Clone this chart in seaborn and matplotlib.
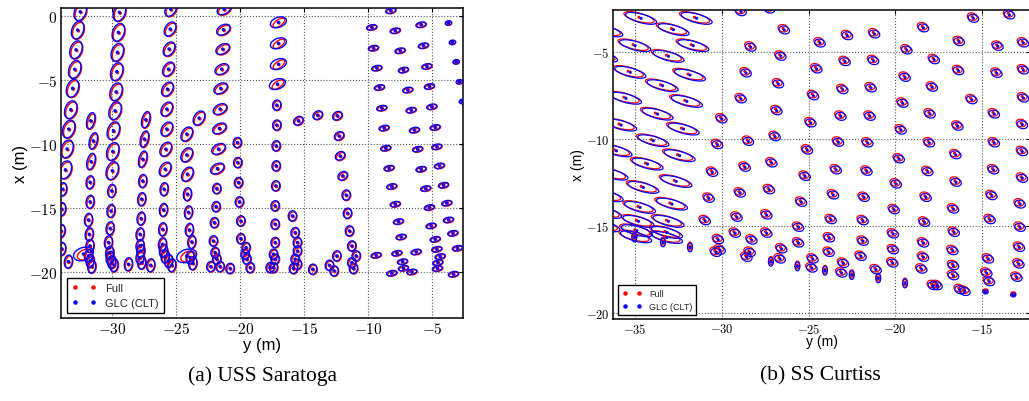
import matplotlib
matplotlib.use("Agg")
import matplotlib.pyplot as plt
import pandas as pd
import seaborn as sns
from matplotlib.patches import Ellipse
from matplotlib.lines import Line2D
from matplotlib.ticker import FuncFormatter, MultipleLocator

sns.set_theme(style="white")
plt.rcParams["font.family"] = ["Liberation Sans", "DejaVu Sans"]
plt.rcParams["mathtext.fontset"] = "cm"

FULL_COLOR = "#ff0000"
GLC_COLOR = "#0000ff"
METHODS = ["Full", "GLC (CLT)"]

# ---------------------------------------------------------------------------
# USS Saratoga: landmark estimates (y, x) in metres, grouped by covariance shape.
# Shape = (GLC major, GLC minor, GLC angle, Full major, Full minor, Full angle,
#          Full offset in y, Full offset in x)
# ---------------------------------------------------------------------------
SARA_TALL_Y = [-32.5, -32.7, -32.83, -32.93, -33.1, -33.24, -33.4, -33.53, -33.66,
               -29.44, -29.52, -29.6, -29.65, -29.7, -29.78, -29.91, -29.96, -30.0]
SARA_TALL_X = [0.31, -1.12, -2.66, -4.19, -5.67, -7.34, -8.85, -10.4, -12.03,
               0.26, -1.3, -2.86, -4.37, -5.94, -7.42, -8.98, -10.6, -12.1]
SARA_TALL_SHAPE = (1.44, 0.9, 70, 1.38, 0.86, 70, 0.07, -0.07)

SARA_NARROW_Y = [-31.68, -31.48, -31.66, -27.38, -27.49, -27.62]
SARA_NARROW_X = [-8.2, -9.77, -11.38, -8.12, -9.63, -11.2]
SARA_NARROW_SHAPE = (1.3, 0.6, 75, 1.25, 0.57, 75, 0.07, -0.07)

SARA_MID_Y = [-25.43, -25.48, -25.56, -25.61, -25.69, -25.74, -25.74, -25.82, -25.87,
              -24.18, -24.18, -24.13, -23.22]
SARA_MID_X = [0.5, -1.04, -2.6, -4.17, -5.73, -7.29, -8.85, -10.42, -11.98,
              -9.24, -10.86, -12.37, -7.99]
SARA_MID_SHAPE = (1.2, 0.78, 58, 1.15, 0.74, 58, 0.07, -0.07)

SARA_WIDE_Y = [-21.27, -21.32, -21.37, -21.45, -21.53, -21.58, -21.63, -21.7, -21.79]
SARA_WIDE_X = [0.5, -1.09, -2.6, -4.17, -5.67, -7.29, -8.8, -10.4, -11.93]
SARA_WIDE_SHAPE = (1.15, 0.72, 30, 1.1, 0.68, 30, 0.07, -0.07)

SARA_BOW_Y = [-17.02, -17.02, -17.02, -17.1]
SARA_BOW_X = [-0.52, -2.16, -3.78, -5.34]
SARA_BOW_SHAPE = (1.3, 0.78, 20, 1.05, 0.5, 35, 0.04, -0.04)

SARA_LOW_Y = [-33.87, -33.95, -34.0, -33.95, -33.43,
              -31.73, -31.73, -31.86, -31.8, -31.75, -31.86, -31.73, -31.6,
              -30.04, -30.1, -30.17, -30.3, -30.2, -30.17, -30.04, -29.86,
              -27.62, -27.7, -27.75, -27.83, -27.83, -27.78, -27.83, -27.7, -28.74, -27.0,
              -25.95, -26.0, -26.06, -26.08, -26.0, -25.87, -25.6, -25.35,
              -24.13, -24.05, -23.98, -23.79, -23.92, -23.71]
SARA_LOW_X = [-13.54, -15.1, -16.8, -18.2, -19.2,
              -13.0, -14.53, -15.94, -17.06, -17.97, -18.75, -19.14, -19.58,
              -13.67, -15.24, -16.6, -17.7, -18.5, -18.9, -19.22, -19.48,
              -12.9, -14.32, -15.83, -17.06, -17.97, -18.36, -18.88, -19.27, -19.4, -19.48,
              -13.54, -15.16, -16.67, -17.84, -18.36, -18.8, -19.14, -19.48,
              -13.93, -15.35, -16.72, -17.66, -18.88, -19.32]
SARA_LOW_SHAPE = (1.02, 0.62, 82, 0.98, 0.58, 82, 0.06, -0.06)

SARA_ROUND_Y = [-21.84, -21.89, -22.02, -22.1, -21.97, -21.84, -21.58, -22.3, -20.8,
                -20.23, -20.2, -20.14, -20.07, -19.96, -19.96, -19.55, -19.63, -19.49, -19.23,
                -17.15, -17.15, -17.2, -17.2, -17.23, -17.28, -17.28, -17.28, -17.41, -17.28,
                -17.41, -17.67,
                -15.93, -15.72, -15.54, -15.54, -15.72, -15.54, -15.85, -14.34,
                -11.73, -11.63, -11.47, -11.29, -10.95, -11.29, -11.16, -12.46, -13.04, -12.67]
SARA_ROUND_X = [-13.49, -14.9, -16.15, -17.58, -18.49, -19.0, -19.58, -19.58, -19.73,
                -9.9, -11.46, -13.02, -14.53, -16.02, -17.4, -18.1, -18.62, -19.0, -19.66,
                -6.98, -8.54, -10.16, -11.72, -13.28, -14.84, -16.27, -17.7, -18.62, -19.0,
                -19.66, -19.66,
                -15.63, -16.93, -17.7, -18.36, -19.0, -19.4, -19.73, -19.79,
                -14.0, -15.42, -16.8, -17.97, -18.75, -19.27, -19.73, -18.75, -19.48, -19.92]
SARA_ROUND_SHAPE = (0.8, 0.64, 80, 0.76, 0.6, 80, 0.06, -0.06)

SARA_TILT_Y = [-15.46, -13.95, -12.42, -12.28, -12.2, -12.0]
SARA_TILT_X = [-8.2, -7.76, -7.81, -9.38, -10.94, -12.5]
SARA_TILT_SHAPE = (0.8, 0.6, 35, 0.76, 0.56, 35, 0.06, -0.06)

SARA_FLAT_Y = [-8.25, -9.73, -7.9, -5.88, -9.6, -7.52, -5.7, -9.34, -7.26, -5.43,
               -9.13, -6.92, -5.23, -8.95, -6.66, -5.04, -8.77, -6.4, -4.78,
               -8.64, -6.15, -4.65, -8.38, -5.88, -4.45, -8.17, -5.52, -4.13,
               -7.9, -5.23, -3.87, -7.65, -5.1, -3.74, -7.44, -4.78, -3.4,
               -9.39, -7.77, -6.27, -4.65, -3.04, -7.33, -7.26, -8.17, -6.6,
               -4.39, -4.57, -4.6, -3.35]
SARA_FLAT_X = [0.39, -0.91, -1.17, -0.7, -2.53, -2.73, -2.34, -4.09, -4.24, -3.96,
               -5.6, -5.8, -5.52, -7.21, -7.37, -7.11, -8.77, -8.93, -8.72,
               -10.34, -10.42, -10.23, -11.9, -11.98, -11.72, -13.33, -13.49, -13.23,
               -14.71, -14.97, -14.63, -16.07, -16.4, -15.94, -17.27, -17.45, -16.98,
               -18.7, -18.54, -18.44, -18.23, -18.15, -19.2, -19.71, -20.1, -20.0,
               -18.8, -19.27, -19.73, -20.18]
SARA_FLAT_SHAPE = (0.8, 0.4, 12, 0.76, 0.37, 12, 0.05, -0.04)

SARA_TINY_Y = [-3.74, -3.43, -3.14, -2.89, -2.65]
SARA_TINY_X = [-0.57, -2.08, -3.6, -5.16, -6.69]
SARA_TINY_SHAPE = (0.5, 0.34, 10, 0.46, 0.3, 10, 0.03, -0.03)

SARA_LOOP_Y = [-32.25, -24.18]
SARA_LOOP_X = [-18.6, -18.75]
SARA_LOOP_SHAPE = (1.6, 1.0, 18, 1.2, 0.75, 25, 0.1, -0.05)

# ---------------------------------------------------------------------------
# SS Curtiss
# ---------------------------------------------------------------------------
CURT_BIG_Y = [-34.65, -31.45, -32.78, -34.99, -31.64, -33.07, -35.27, -31.83, -33.41,
              -35.52, -32.01, -33.7, -35.8, -32.2, -33.94, -36.07, -32.43, -34.28,
              -36.6, -36.9, -34.52, -32.62, -34.71, -32.87, -34.8, -33.07, -34.89,
              -33.16, -34.94, -33.16, -36.3, -36.58, -36.67, -36.77]
CURT_BIG_X = [-3.08, -3.08, -3.73, -4.65, -4.65, -5.26, -6.18, -6.34, -6.95,
              -7.67, -7.85, -8.58, -9.21, -9.44, -10.11, -10.69, -10.97, -11.45,
              -3.8, -5.25, -12.79, -12.45, -13.94, -13.75, -14.74, -14.74, -15.28,
              -15.38, -15.63, -15.67, -12.03, -13.27, -14.23, -15.0]
CURT_BIG_SHAPE = (1.85, 0.5, -15, 1.8, 0.48, -15, -0.12, 0.06)

CURT_SMALL_Y = [-28.89, -27.25, -26.4, -28.33, -26.6, -28.6, -26.74, -28.89, -26.83,
                -30.0, -26.93, -28.47, -30.25, -28.66, -27.12, -30.54, -30.74, -30.96,
                -30.2, -30.33, -30.1, -28.94, -29.13, -29.23, -28.27, -28.37, -28.56,
                -27.26, -27.41, -27.41, -26.55, -26.64, -25.41, -25.58,
                -24.34, -22.76, -21.2, -18.38, -15.5, -13.42, -16.32, -14.09, -12.62,
                -19.34, -24.53, -22.9, -21.26, -17.76, -19.44, -16.36, -14.15, -12.62,
                -24.72, -23.03, -21.4, -17.87, -19.57, -15.59, -12.62,
                -24.87, -23.14, -21.46, -18.0, -14.3, -19.67, -16.4, -12.68,
                -25.07, -23.28, -21.59, -18.04, -14.3, -19.78, -16.52, -12.68,
                -25.2, -23.41, -21.64, -18.13, -14.34, -12.68, -19.95, -16.5,
                -23.57, -21.8, -18.23, -14.44, -20.07, -16.65, -12.81,
                -23.7, -21.86, -18.32, -14.54, -20.12, -16.61, -12.81,
                -25.58, -23.8, -21.86, -18.38, -20.12, -16.69, -12.85,
                -23.82, -24.75, -21.98, -18.38, -20.15, -16.65, -14.64, -12.88,
                -24.81, -22.99, -23.09, -21.11, -18.48, -16.65, -14.73, -14.58, -13.0,
                -17.81, -17.6, -16.27, -15.99]
CURT_SMALL_X = [-2.7, -2.55, -3.75, -4.74, -5.26, -6.22, -6.85, -7.71, -8.39,
                -8.86, -9.88, -10.15, -10.34, -11.64, -11.39, -11.93, -13.42, -14.71,
                -15.8, -16.53, -16.4, -13.12, -14.51, -15.43, -15.82, -16.53, -16.81,
                -12.93, -14.38, -15.43, -16.33, -16.91, -13.65, -15.09,
                -4.5, -4.08, -3.98, -3.63, -3.08, -2.89, -4.42, -4.69, -4.5,
                -4.9, -5.99, -5.57, -5.51, -5.46, -6.47, -6.09, -6.24, -6.05,
                -7.53, -7.18, -7.08, -7.04, -7.96, -7.76, -7.66,
                -9.09, -8.71, -8.71, -8.58, -8.58, -9.5, -9.28, -9.19,
                -10.65, -10.2, -10.24, -10.24, -10.24, -11.16, -10.92, -10.74,
                -12.16, -11.79, -11.87, -11.89, -11.79, -12.27, -12.6, -12.5,
                -13.23, -13.37, -13.37, -13.27, -14.08, -14.04, -13.75,
                -14.65, -14.71, -14.8, -14.65, -15.47, -15.38, -15.09,
                -15.99, -15.7, -15.89, -15.99, -16.38, -16.43, -16.24,
                -16.53, -16.91, -16.76, -16.81, -17.14, -17.29, -16.91, -17.2,
                -17.43, -17.16, -17.72, -17.53, -17.49, -17.87, -17.72, -18.21, -17.96,
                -18.44, -18.44, -18.67, -18.77]
CURT_SMALL_SHAPE = (0.62, 0.44, -15, 0.58, 0.42, -15, -0.07, 0.1)

CURT_SLIM_Y = [-35.04, -33.39, -31.83, -27.17, -25.64, -24.05, -22.51, -20.98, -19.44]
CURT_SLIM_X = [-15.67, -15.95, -16.24, -17.07, -17.33, -17.58, -17.83, -18.02, -18.31]
CURT_SLIM_SHAPE = (0.5, 0.28, 90, 0.46, 0.26, 90, 0.0, 0.08)

CURT_DOT_Y = [-14.8, -13.2]
CURT_DOT_X = [-18.79, -18.96]
CURT_DOT_SHAPE = (0.3, 0.24, 0, 0.28, 0.22, 0, 0.0, 0.06)

SARA_GROUPS = [
    (SARA_TALL_Y, SARA_TALL_X, SARA_TALL_SHAPE),
    (SARA_NARROW_Y, SARA_NARROW_X, SARA_NARROW_SHAPE),
    (SARA_MID_Y, SARA_MID_X, SARA_MID_SHAPE),
    (SARA_WIDE_Y, SARA_WIDE_X, SARA_WIDE_SHAPE),
    (SARA_BOW_Y, SARA_BOW_X, SARA_BOW_SHAPE),
    (SARA_LOW_Y, SARA_LOW_X, SARA_LOW_SHAPE),
    (SARA_ROUND_Y, SARA_ROUND_X, SARA_ROUND_SHAPE),
    (SARA_TILT_Y, SARA_TILT_X, SARA_TILT_SHAPE),
    (SARA_FLAT_Y, SARA_FLAT_X, SARA_FLAT_SHAPE),
    (SARA_TINY_Y, SARA_TINY_X, SARA_TINY_SHAPE),
    (SARA_LOOP_Y, SARA_LOOP_X, SARA_LOOP_SHAPE),
]
CURT_GROUPS = [
    (CURT_BIG_Y, CURT_BIG_X, CURT_BIG_SHAPE),
    (CURT_SMALL_Y, CURT_SMALL_X, CURT_SMALL_SHAPE),
    (CURT_SLIM_Y, CURT_SLIM_X, CURT_SLIM_SHAPE),
    (CURT_DOT_Y, CURT_DOT_X, CURT_DOT_SHAPE),
]


def landmark_table(groups):
    rows = []
    for ys, xs, shape in groups:
        dy, dx = shape[6], shape[7]
        for y, x in zip(ys, xs):
            rows.append({"y": y + dy, "x": x + dx, "method": METHODS[0]})
    for ys, xs, shape in groups:
        for y, x in zip(ys, xs):
            rows.append({"y": y, "x": x, "method": METHODS[1]})
    return pd.DataFrame(rows)


def draw_panel(ax, groups, xlim, ylim, lw, dot_size):
    # covariance ellipses: Full underneath, GLC on top
    for ys, xs, shape in groups:
        _, _, _, fmaj, fmin, fang, dy, dx = shape
        for y, x in zip(ys, xs):
            ax.add_patch(Ellipse((y + dy, x + dx), fmaj, fmin, angle=fang, fill=False,
                                 ec=FULL_COLOR, lw=lw, zorder=2))
    for ys, xs, shape in groups:
        gmaj, gmin, gang = shape[:3]
        for y, x in zip(ys, xs):
            ax.add_patch(Ellipse((y, x), gmaj, gmin, angle=gang, fill=False,
                                 ec=GLC_COLOR, lw=lw, zorder=3))
    df = landmark_table(groups)
    sns.scatterplot(data=df, x="y", y="x", hue="method",
                    palette={METHODS[0]: FULL_COLOR, METHODS[1]: GLC_COLOR},
                    s=dot_size, linewidth=0, legend=False, ax=ax, zorder=4)
    ax.set_xlim(*xlim)
    ax.set_ylim(*ylim)


def style_axes(ax, tick_size, label_size, legend_size, ylab_x, xlab_y, leg_anchor):
    fmt = FuncFormatter(lambda v, p: f"${v:g}$")
    ax.xaxis.set_major_locator(MultipleLocator(5))
    ax.yaxis.set_major_locator(MultipleLocator(5))
    ax.xaxis.set_major_formatter(fmt)
    ax.yaxis.set_major_formatter(fmt)
    ax.grid(True, ls=":", color="0.35", lw=0.8)
    ax.set_axisbelow(True)
    ax.tick_params(direction="in", length=3, width=0.8, top=True, right=True,
                   labelsize=tick_size, pad=2.5, colors="black")
    for sp in ax.spines.values():
        sp.set_visible(True)
        sp.set_color("black")
        sp.set_linewidth(1.1)
    ax.set_xlabel("y (m)", fontsize=label_size, color="black")
    ax.set_ylabel("x (m)", fontsize=label_size, color="black")
    ax.xaxis.set_label_coords(0.5, xlab_y)
    ax.yaxis.set_label_coords(ylab_x, 0.5)
    handles = [Line2D([], [], ls="none", marker="o", ms=2.2, mfc=c, mec=c)
               for c in (FULL_COLOR, GLC_COLOR)]
    leg = ax.legend(handles, METHODS, numpoints=2, loc="lower left",
                    bbox_to_anchor=leg_anchor, borderaxespad=0, frameon=True,
                    fancybox=False, edgecolor="black", framealpha=1,
                    fontsize=legend_size, handlelength=2.2, handletextpad=0.8,
                    borderpad=0.45, labelspacing=0.45)
    leg.get_frame().set_linewidth(1.0)
    leg.set_zorder(10)


fig = plt.figure(figsize=(10.29, 4.02), dpi=100)
ax_a = fig.add_axes([0.05928, 0.20647, 0.39067, 0.77114])
ax_b = fig.add_axes([0.59602, 0.20398, 0.40525, 0.76866])

draw_panel(ax_a, SARA_GROUPS, (-34.0, -2.6), (-23.6, 0.6), lw=1.0, dot_size=6)
draw_panel(ax_b, CURT_GROUPS, (-36.25, -12.22), (-20.35, -2.6), lw=0.9, dot_size=5)

style_axes(ax_a, 11, 12, 8, -0.083, -0.062, (0.015, 0.016))
style_axes(ax_b, 9, 10, 6.5, -0.068, -0.05, (0.011, 0.013))

fig.text(263 / 1029, 1 - 376 / 402, "(a) USS Saratoga", ha="center", va="center",
         family="Liberation Serif", fontsize=15.5, color="black")
fig.text(820 / 1029, 1 - 376 / 402, "(b) SS Curtiss", ha="center", va="center",
         family="Liberation Serif", fontsize=15.5, color="black")

fig.savefig("out.png", dpi=100, facecolor="white")
